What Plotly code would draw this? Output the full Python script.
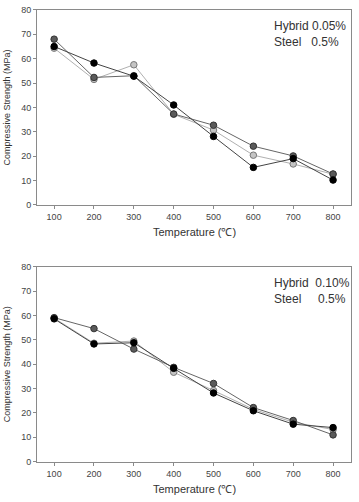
import plotly.graph_objects as go

temps = [100, 200, 300, 400, 500, 600, 700, 800]

# Top panel: Hybrid 0.05%, Steel 0.5%
top_black = [65.0, 58.2, 52.8, 41.0, 28.1, 15.4, 19.0, 10.2]
top_dark = [68.0, 52.3, 53.0, 37.3, 32.7, 24.1, 20.1, 12.7]
top_light = [64.3, 51.5, 57.5, 37.2, 30.7, 20.4, 16.8, 12.6]

# Bottom panel: Hybrid 0.10%, Steel 0.5%
bot_black = [58.6, 48.3, 48.8, 38.3, 28.2, 20.9, 15.4, 14.0]
bot_dark = [59.1, 54.6, 46.2, 38.7, 32.1, 22.2, 16.9, 11.0]
bot_light = [58.9, 48.6, 49.5, 36.7, 29.2, 21.5, 16.2, 13.2]

y_ticks = [0, 10, 20, 30, 40, 50, 60, 70, 80]
x_title = "Temperature (℃)"
y_title = "Compressive Strength (MPa)"
labels_top = ["Hybrid 0.05%", "Steel   0.5%"]
labels_bot = ["Hybrid  0.10%", "Steel     0.5%"]

FONT = "Liberation Sans, Arial, sans-serif"

styles = [
    dict(line=dict(color="#b0b0b0", width=1), marker=dict(color="#c4c4c4", size=6.5, line=dict(color="#777777", width=1))),
    dict(line=dict(color="#666666", width=1), marker=dict(color="#5a5a5a", size=6.5, line=dict(color="#333333", width=1))),
    dict(line=dict(color="#444444", width=1), marker=dict(color="#000000", size=6.5, line=dict(color="#000000", width=1))),
]

fig = go.Figure()
for series, xa, ya in [((top_light, top_dark, top_black), "x", "y"),
                       ((bot_light, bot_dark, bot_black), "x2", "y2")]:
    for vals, st in zip(series, styles):
        fig.add_trace(go.Scatter(x=temps, y=vals, mode="lines+markers", xaxis=xa, yaxis=ya,
                                 line=st["line"], marker=st["marker"], showlegend=False,
                                 hoverinfo="skip"))

top_dom = [1 - 204 / 502, 1 - 5 / 502]
bot_dom = [1 - 466 / 502, 1 - 267 / 502]

axis_common = dict(showline=True, linecolor="#8a8a8a", linewidth=1, mirror=True,
                   ticks="outside", ticklen=3, tickcolor="#8a8a8a", showgrid=False,
                   zeroline=False, tickfont=dict(family=FONT, size=9, color="#444444"))

fig.update_layout(
    width=359, height=502,
    margin=dict(l=37, r=8, t=0, b=0),
    paper_bgcolor="white", plot_bgcolor="white",
    xaxis=dict(domain=[0, 1], anchor="y", range=[57, 845], tickvals=temps, **axis_common),
    yaxis=dict(domain=top_dom, anchor="x", range=[0, 80], tickvals=y_ticks, **axis_common),
    xaxis2=dict(domain=[0, 1], anchor="y2", range=[57, 845], tickvals=temps, **axis_common),
    yaxis2=dict(domain=bot_dom, anchor="x2", range=[0, 80], tickvals=y_ticks, **axis_common),
)

ann = []
for ydom, lab, ypx_title in [(top_dom, labels_top, 232), (bot_dom, labels_bot, 494)]:
    ann.append(dict(text=x_title, xref="paper", yref="paper", x=0.5, y=1 - ypx_title / 502,
                    showarrow=False, xanchor="center", yanchor="middle",
                    font=dict(family=FONT, size=11, color="#333333")))
    ann.append(dict(text=y_title, xref="paper", yref="paper", x=(7 - 37) / 314, y=sum(ydom) / 2,
                    textangle=-90,
                    showarrow=False, xanchor="center", yanchor="middle",
                    font=dict(family=FONT, size=9, color="#333333")))
ann.append(dict(text=labels_top[0] + "<br>" + labels_top[1], xref="paper", yref="paper",
                x=(272 - 37) / 314, y=1 - 12 / 502, showarrow=False, xanchor="left", yanchor="top",
                align="left", font=dict(family=FONT, size=12, color="#333333")))
ann.append(dict(text=labels_bot[0] + "<br>" + labels_bot[1], xref="paper", yref="paper",
                x=(272 - 37) / 314, y=1 - 274 / 502, showarrow=False, xanchor="left", yanchor="top",
                align="left", font=dict(family=FONT, size=12, color="#333333")))
fig.update_layout(annotations=ann)

fig.write_html("out.html")
